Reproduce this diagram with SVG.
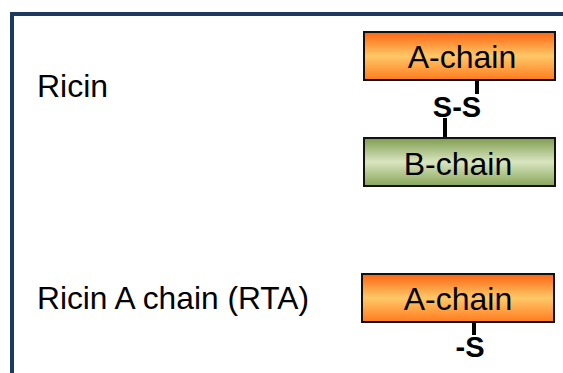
<svg xmlns="http://www.w3.org/2000/svg" width="563" height="373" viewBox="0 0 563 373">
<style>
.lbl{font-family:"Liberation Sans",Arial,sans-serif;font-size:32px;fill:#000}
.box{stroke:#111;stroke-width:2}
.bond{stroke:#000;stroke-width:4}
.ss{font-family:"Liberation Sans",Arial,sans-serif;font-size:29px;font-weight:bold;fill:#000}
</style>
<defs>
<linearGradient id="gA" x1="0" y1="0" x2="0" y2="1">
<stop offset="0" stop-color="#FF6410"/>
<stop offset="0.5" stop-color="#FFC868"/>
<stop offset="1" stop-color="#FF7A1E"/>
</linearGradient>
<linearGradient id="gB" x1="0" y1="0" x2="0" y2="1">
<stop offset="0" stop-color="#7E9C4E"/>
<stop offset="0.5" stop-color="#D9E5C0"/>
<stop offset="1" stop-color="#88A558"/>
</linearGradient>
</defs>
<rect width="563" height="373" fill="#fff"/>
<g id="frame" fill="#1B3A5E">
<rect x="10" y="12" width="553" height="4"/>
<rect x="10" y="12" width="4" height="361"/>
</g>
<g id="labels">
<text class="lbl" x="37" y="97">Ricin</text>
<text class="lbl" x="37" y="309" textLength="272" lengthAdjust="spacingAndGlyphs">Ricin A chain (RTA)</text>
</g>
<g id="connectors">
<line class="bond" x1="477" y1="80" x2="477" y2="94"/>
<line class="bond" x1="445" y1="118" x2="445" y2="137"/>
<line class="bond" x1="474" y1="322" x2="474" y2="335"/>
</g>
<g id="ricin-a">
<rect class="box" x="364" y="32" width="191" height="48" fill="url(#gA)"/>
<text class="lbl" x="462" y="68" text-anchor="middle">A-chain</text>
</g>
<g id="ss-bond">
<text class="ss" x="457" y="117" text-anchor="middle">S-S</text>
</g>
<g id="ricin-b">
<rect class="box" x="364" y="138" width="191" height="48" fill="url(#gB)"/>
<text class="lbl" x="458" y="175" text-anchor="middle">B-chain</text>
</g>
<g id="rta">
<rect class="box" x="362" y="274" width="192" height="48" fill="url(#gA)"/>
<text class="lbl" x="458" y="310" text-anchor="middle">A-chain</text>
</g>
<g id="s-label">
<text class="ss" x="470" y="357" text-anchor="middle">-S</text>
</g>
</svg>
